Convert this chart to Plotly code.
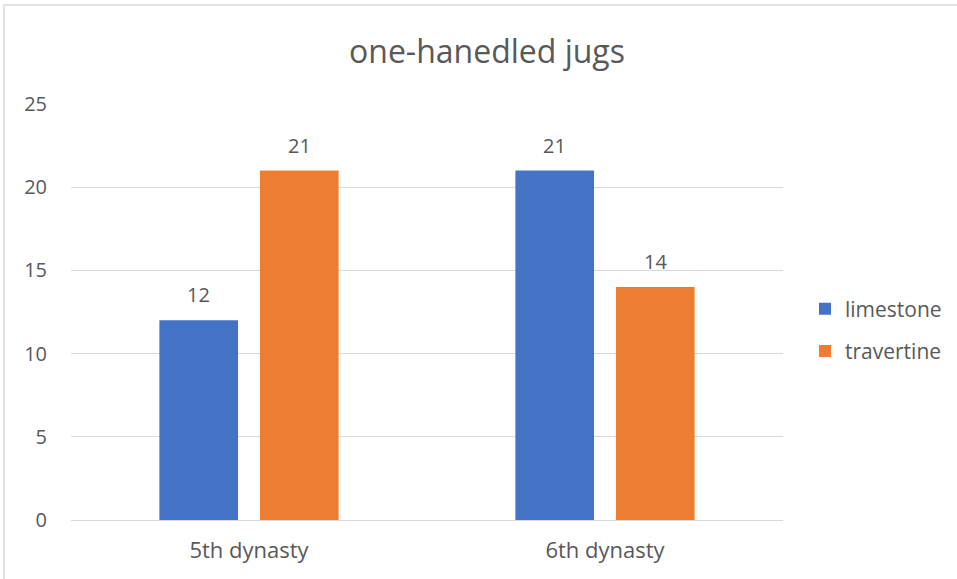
import plotly.graph_objects as go

categories = ["5th dynasty", "6th dynasty"]
limestone = [12, 21]
travertine = [21, 14]
series_names = ["limestone", "travertine"]
colors = ["#4472C4", "#ED7D31"]
title_text = "one-hanedled jugs"
y_ticks = [0, 5, 10, 15, 20, 25]

FONT = "'Open Sans', sans-serif"
GRAY = "#595959"

L, R, T, B = 71, 174, 104, 59
W, H = 957, 579
pw, ph = W - L - R, H - T - B
BARGAP = 0.435
BARGROUPGAP = 0.218

def px(p):
    return (p - L) / pw

def py(q):
    return (H - B - q) / ph

fig = go.Figure()
series = [limestone, travertine]
n_series = len(series)
cat_w = pw / len(categories)
slot = cat_w * (1 - BARGAP) / n_series
annotations = []
for i, (name, vals, col) in enumerate(zip(series_names, series, colors)):
    fig.add_trace(go.Bar(
        x=categories, y=vals, name=name, legendgroup=name,
        marker=dict(color=col, line=dict(width=0)),
        hoverinfo="x+y+name",
    ))
    shift = (i - (n_series - 1) / 2) * slot
    for c, v in zip(categories, vals):
        annotations.append(dict(
            x=c, y=v, xref="x", yref="y", text=str(v), showarrow=False,
            xanchor="center", yanchor="bottom", xshift=shift, yshift=10,
            font=dict(size=20, color=GRAY, family=FONT)))

fig.update_layout(
    width=W, height=H,
    margin=dict(l=L, r=R, t=T, b=B, pad=0, autoexpand=False),
    paper_bgcolor="white", plot_bgcolor="white",
    font=dict(family=FONT, color=GRAY, size=20),
    title=dict(text=title_text, x=487 / W, xref="container", xanchor="center",
               y=1 - 52 / H, yref="container", yanchor="middle",
               font=dict(size=32, color=GRAY, family=FONT)),
    barmode="group", bargap=BARGAP, bargroupgap=BARGROUPGAP,
    showlegend=True,
    legend=dict(x=px(805), y=py(330), xanchor="left", yanchor="middle",
                font=dict(size=21, color=GRAY, family=FONT),
                tracegroupgap=12, bgcolor="rgba(0,0,0,0)"),
    xaxis=dict(showgrid=False, showline=False, ticks="", ticklabelstandoff=15,
               tickfont=dict(size=22, color=GRAY, family=FONT)),
    yaxis=dict(range=[0, 25], tickvals=y_ticks, showgrid=True, gridcolor="#D9D9D9",
               gridwidth=1, zeroline=True, zerolinecolor="#D9D9D9", zerolinewidth=1,
               showline=False, ticks="", ticklabelstandoff=23,
               tickfont=dict(size=20, color=GRAY, family=FONT)),
    annotations=annotations,
    shapes=[dict(type="rect", xref="paper", yref="paper",
                 x0=px(4), x1=px(962), y0=py(584), y1=py(5),
                 line=dict(color="#D9D9D9", width=1.5), fillcolor="rgba(0,0,0,0)",
                 layer="below")],
)

fig.write_html("out.html")
